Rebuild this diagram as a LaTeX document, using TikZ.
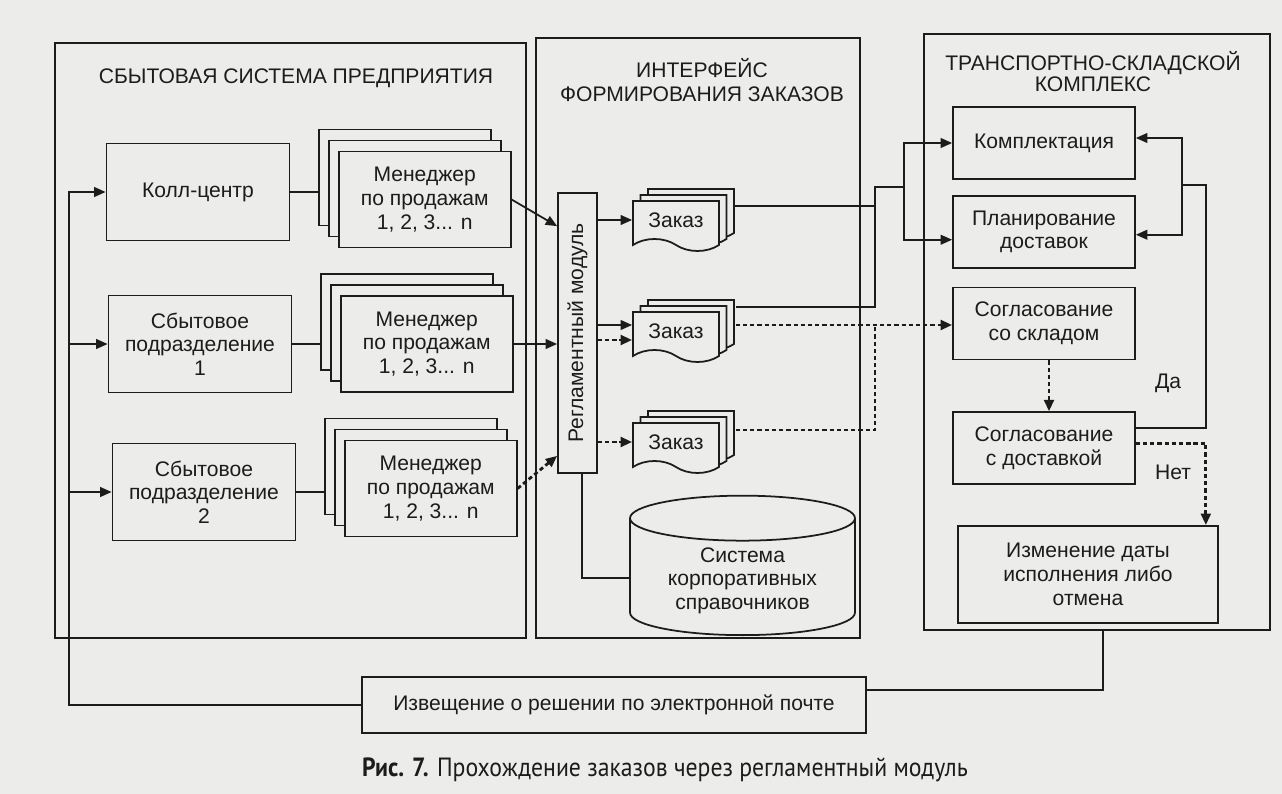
\documentclass[tikz,border=0pt]{standalone}
\usepackage{fontspec}
\setmainfont{Liberation Sans}
\newfontfamily\capfont[FakeStretch=0.9]{PT Sans}
\usepackage{tikz}
\usetikzlibrary{arrows.meta,positioning,shapes.geometric,shapes.symbols,shadows}
\definecolor{paper}{RGB}{236,236,234}
\definecolor{ink}{RGB}{28,28,28}

\begin{document}
\begin{tikzpicture}[x=0.02cm, y=-0.02cm, line width=1pt, color=ink,
    every node/.style={font=\fontsize{12}{13.5}\selectfont},
    blk/.style={draw, fill=paper, align=center, minimum width=3.66cm, minimum height=1.94cm},
    rblk/.style={blk, minimum width=3.64cm, minimum height=1.44cm},
    mgr/.style={blk, minimum width=3.44cm, minimum height=1.92cm,
        general shadow={shadow xshift=-0.4cm, shadow yshift=0.44cm, fill=paper, draw},
        general shadow={shadow xshift=-0.2cm, shadow yshift=0.22cm, fill=paper, draw}},
    doc/.style={tape, tape bend top=none, tape bend bottom=out and in, tape bend height=0.24cm,
        draw, fill=paper, minimum width=1.72cm, minimum height=1cm,
        general shadow={shadow xshift=0.3cm, shadow yshift=0.24cm, fill=paper, draw},
        general shadow={shadow xshift=0.15cm, shadow yshift=0.12cm, fill=paper, draw}},
    arr/.style={-{Triangle[length=6.5pt,width=5.5pt]}},
    dotln/.style={dash pattern=on 2.4pt off 1.7pt, line width=1.6pt}]
    \path[use as bounding box, fill=paper] (0,0) rectangle (1282,794);

    % рамки
    \node[draw, minimum width=9.42cm, minimum height=11.9cm] (sbyt) at (290.5,340.5) {};
    \node[draw, minimum width=6.48cm, minimum height=12cm] (intf) at (698,338) {};
    \node[draw, minimum width=6.92cm, minimum height=11.92cm] (tsk) at (1097,332) {};
    \node (t1) at (296,78) {СБЫТОВАЯ СИСТЕМА ПРЕДПРИЯТИЯ};
    \node[align=center] (t2) at (702,80) {ИНТЕРФЕЙС\\ФОРМИРОВАНИЯ ЗАКАЗОВ};
    \node[align=center] (t3) at (1093,72) {ТРАНСПОРТНО-СКЛАДСКОЙ\\[-1.5pt]КОМПЛЕКС};

    % сбытовая система
    \node[blk] (kc) at (198,192) {Колл-центр};
    \node[blk] (sp1) at (200,344) {Сбытовое\\подразделение\\1};
    \node[blk] (sp2) at (204,492) {Сбытовое\\подразделение\\2};
    \node[mgr, right=0.95cm of kc, yshift=-0.15cm] (m1) {Менеджер\\по продажам\\1, 2, 3... n};
    \node[mgr, right=0.95cm of sp1] (m2) {Менеджер\\по продажам\\1, 2, 3... n};
    \node[mgr, right=0.95cm of sp2, yshift=0.07cm] (m3) {Менеджер\\по продажам\\1, 2, 3... n};

    % интерфейс
    \node[draw, fill=paper, minimum width=0.78cm, minimum height=5.6cm,
        label={[rotate=90]center:Регламентный модуль}] (regl) at (577.5,333) {};
    \foreach \n/\y in {1/220,2/331,3/442}
        \node[doc] (doc\n) at (676,\y) {Заказ};
    \node[cylinder, shape border rotate=90, draw, fill=paper, aspect=0.28,
        minimum width=4.5cm, minimum height=2.4cm, align=center, anchor=bottom] (sprav) at (742.5,636)
        {Система\\корпоративных\\справочников};

    % транспортно-складской комплекс
    \node[rblk] (komp) at (1044,143) {Комплектация};
    \node[rblk, below=0.3cm of komp] (plan) {Планирование\\доставок};
    \node[rblk, below=0.36cm of plan] (sogl1) {Согласование\\со складом};
    \node[rblk, below=1.02cm of sogl1] (sogl2) {Согласование\\с доставкой};
    \node[blk, minimum width=5.2cm, below=0.8cm of sogl2.south west, anchor=north west, xshift=0.1cm] (izm)
        {Изменение даты\\исполнения либо\\отмена};

    \node[draw, fill=paper, minimum width=10.08cm, minimum height=1.12cm] (izv) at (614,705)
        {Извещение о решении по электронной почте};
    \node[font=\capfont\fontsize{15}{17}\selectfont] (cap) at (665,770)
        {\textbf{Рис. 7.} Прохождение заказов через регламентный модуль};

    % связи слева
    \coordinate (m1b) at ([xshift=-0.4cm]m1.west);
    \coordinate (m2b) at ([xshift=-0.4cm]m2.west);
    \coordinate (m3b) at ([xshift=-0.4cm]m3.west);
    \draw (kc.east) -- (kc.east -| m1b);
    \draw (sp1.east) -- (sp1.east -| m2b);
    \draw (sp2.east) -- (sp2.east -| m3b);
    \draw[arr] (m1.east) -- ([yshift=-0.68cm]regl.north west);
    \draw[arr] (m2.east) -- (m2.east -| regl.west);
    \draw[dotln, arr] (m3.east) -- ([yshift=0.36cm]regl.south west);

    \coordinate (fb) at ([xshift=-0.73cm]kc.west);
    \draw[arr] (izv.west) -| (fb) -- (kc.west);
    \draw[arr] (fb |- sp1.west) -- (sp1.west);
    \draw[arr] (fb |- sp2.west) -- (sp2.west);
    \draw ([xshift=0.12cm]tsk.south) |- ([yshift=0.3cm]izv.east);

    % регламентный модуль -> заказы
    \coordinate (r2a) at ([yshift=0.12cm]doc2.west);
    \coordinate (r2b) at ([yshift=-0.18cm]doc2.west);
    \draw[arr] (regl.east |- doc1.west) -- (doc1.west);
    \draw[arr] (regl.east |- r2a) -- (r2a);
    \draw[dotln, arr] (regl.east |- r2b) -- (r2b);
    \draw[dotln, arr] (regl.east |- doc3.west) -- (doc3.west);
    \draw ([xshift=0.09cm]regl.south) |- ([yshift=0.05cm]sprav.west);

    % заказы -> комплекс
    \coordinate (d1o) at ([xshift=0.3cm, yshift=0.28cm]doc1.east);
    \coordinate (d2o) at ([xshift=0.32cm, yshift=0.48cm]doc2.east);
    \coordinate (d2d) at ([xshift=0.32cm, yshift=0.12cm]doc2.east);
    \coordinate (d3o) at ([xshift=0.32cm, yshift=0.24cm]doc3.east);
    \coordinate (j1) at (875,187);
    \coordinate (j2) at (904,187);
    \draw (d1o) -| (j1) -- (j2);
    \draw (d2o) -| (j1);
    \draw[arr] (j2) |- (komp.west);
    \draw[arr] (j2) |- ([yshift=-0.16cm]plan.west);
    \draw[dotln, arr] (d2d) -- (d2d -| sogl1.west);
    \draw[dotln] (d3o) -| (j1 |- d2d);

    % согласование
    \draw[dotln, arr] ([xshift=0.1cm]sogl1.south) -- ([xshift=0.1cm]sogl2.north);
    \coordinate (da) at ([yshift=0.4cm]sogl2.east);
    \coordinate (net) at ([yshift=0.1cm]sogl2.east);
    \coordinate (kb) at (1182,185);
    \draw (da) -- ++(1.4cm,0) |- (kb);
    \draw[arr] (kb) |- ([yshift=0.1cm]komp.east);
    \draw[arr] (kb) |- ([yshift=-0.06cm]plan.east);
    \draw[dotln, arr] (net) -| ([xshift=-0.26cm]izm.north east);
    \node (lda) at (1168,383) {Да};
    \node (lnet) at (1173,472) {Нет};
\end{tikzpicture}
\end{document}
